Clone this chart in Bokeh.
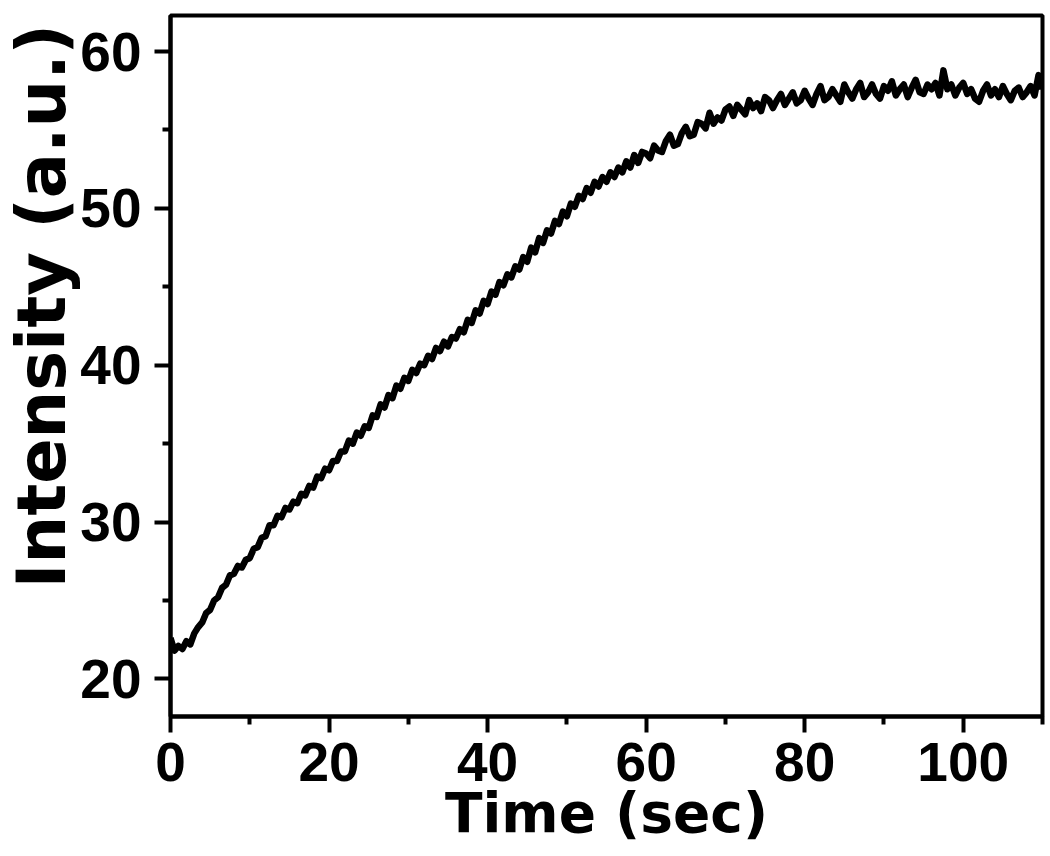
from bokeh.plotting import figure
from bokeh.models import Range1d, FixedTicker, Title
from bokeh.embed import file_html
from bokeh.resources import INLINE

time_s = [i * 0.5 for i in range(221)]
intensity = [
    22.6, 21.8, 22.1, 21.9, 22.4, 22.2, 22.9, 23.3, 23.6, 24.2,
    24.4, 25.0, 25.2, 25.8, 26.0, 26.6, 26.7, 27.2, 27.1, 27.6,
    27.7, 28.3, 28.4, 29.0, 29.1, 29.8, 29.8, 30.4, 30.3, 30.9,
    30.8, 31.3, 31.2, 31.8, 31.7, 32.3, 32.2, 32.9, 32.8, 33.4,
    33.3, 33.9, 33.9, 34.5, 34.5, 35.2, 35.0, 35.7, 35.5, 36.1,
    36.0, 36.8, 36.7, 37.5, 37.3, 38.1, 37.9, 38.7, 38.5, 39.2,
    39.0, 39.7, 39.5, 40.1, 40.0, 40.6, 40.4, 41.1, 40.9, 41.5,
    41.2, 41.8, 41.7, 42.3, 42.1, 42.9, 42.7, 43.5, 43.3, 44.1,
    43.9, 44.7, 44.5, 45.3, 45.1, 45.8, 45.6, 46.3, 46.1, 46.9,
    46.6, 47.5, 47.2, 48.1, 47.8, 48.6, 48.4, 49.2, 49.0, 49.8,
    49.5, 50.3, 50.1, 50.8, 50.6, 51.3, 51.0, 51.7, 51.4, 52.0,
    51.7, 52.3, 52.0, 52.6, 52.3, 53.0, 52.6, 53.4, 52.9, 53.6,
    53.5, 53.2, 54.0, 53.7, 53.6, 54.3, 54.7, 54.0, 54.1, 54.8,
    55.2, 54.6, 54.7, 55.5, 55.4, 55.1, 56.1, 55.4, 55.8, 55.6,
    56.3, 56.5, 55.9, 56.6, 56.3, 56.0, 56.9, 56.4, 56.7, 56.2,
    57.1, 56.9, 56.4, 56.9, 57.3, 56.6, 57.0, 57.4, 56.7, 56.9,
    57.5, 57.0, 56.6, 57.3, 57.8, 56.9, 57.1, 57.6, 57.2, 56.8,
    57.9, 57.4, 57.0, 57.6, 58.0, 57.1, 57.4, 57.9, 57.3, 57.0,
    57.8, 57.5, 58.1, 57.2, 57.6, 57.9, 57.1, 57.7, 58.2, 57.4,
    57.3, 57.9, 57.6, 58.0, 57.2, 58.8, 57.6, 57.9, 57.2, 57.7,
    58.0, 57.3, 57.6, 57.0, 56.8, 57.5, 57.9, 57.2, 57.6, 57.1,
    57.8, 57.3, 56.9, 57.5, 57.7, 57.1, 57.4, 57.8, 57.2, 58.5,
    57.6,
]

x_major = [0, 20, 40, 60, 80, 100]
x_minor = [10, 30, 50, 70, 90, 110]
y_major = [20, 30, 40, 50, 60]
y_minor = [25, 35, 45, 55]

TICK_FONT = "Liberation Sans"
LABEL_FONT = "DejaVu Sans"

p = figure(
    width=1046, height=848,
    x_range=Range1d(0, 110), y_range=Range1d(17.6, 62.3),
    output_backend="svg", toolbar_location=None,
    min_border_left=170, min_border_right=4,
    min_border_top=15, min_border_bottom=132,
    background_fill_color="white", border_fill_color="white",
)
p.grid.visible = False
p.outline_line_color = "black"
p.outline_line_width = 4

p.line(time_s, intensity, line_color="black", line_width=6.5, line_join="round")

p.xaxis.ticker = FixedTicker(ticks=x_major, minor_ticks=x_minor)
p.yaxis.ticker = FixedTicker(ticks=y_major, minor_ticks=y_minor)

for ax in (p.xaxis[0], p.yaxis[0]):
    ax.axis_line_width = 4
    ax.axis_line_color = "black"
    ax.major_tick_line_width = 4
    ax.minor_tick_line_width = 4
    ax.major_tick_in = 0
    ax.minor_tick_in = 0
    ax.major_tick_out = 16
    ax.minor_tick_out = 8
    ax.major_label_text_font = TICK_FONT
    ax.major_label_text_font_style = "bold"
    ax.major_label_text_font_size = "55px"
    ax.major_label_text_color = "black"

p.xaxis.axis_label = "Time (sec)"
p.xaxis.axis_label_text_font = LABEL_FONT
p.xaxis.axis_label_text_font_style = "bold"
p.xaxis.axis_label_text_color = "black"
p.xaxis.axis_label_text_font_size = "55px"
p.xaxis.major_label_standoff = 10
p.xaxis.axis_label_standoff = -3
p.yaxis.major_label_standoff = 13

ylabel = Title(
    text="Intensity (a.u.)", align="left", offset=128, standoff=-6,
    text_font=LABEL_FONT, text_font_style="bold", text_font_size="67px",
    text_color="black",
)
p.add_layout(ylabel, "left")

open("out.html", "w").write(file_html(p, INLINE))
